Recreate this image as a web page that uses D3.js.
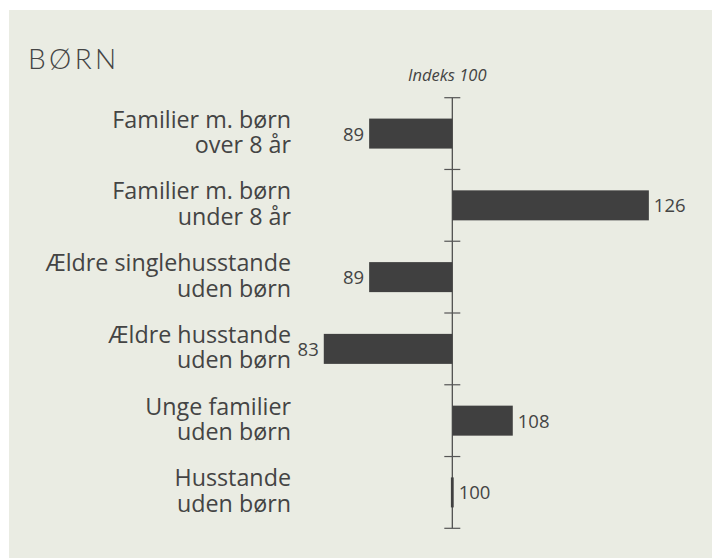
<!DOCTYPE html>
<html>
<head>
<meta charset="utf-8">
<script src="https://cdn.jsdelivr.net/npm/d3@7"></script>
<style>
  html, body { margin: 0; padding: 0; background: #ffffff; }
  svg { display: block; }
</style>
</head>
<body>
<svg id="chart" width="712" height="558"></svg>
<script>
const title = "BØRN";
const axisLabel = "Indeks 100";
const categories = [
  ["Familier m. børn", "over 8 år"],
  ["Familier m. børn", "under 8 år"],
  ["Ældre singlehusstande", "uden børn"],
  ["Ældre husstande", "uden børn"],
  ["Unge familier", "uden børn"],
  ["Husstande", "uden børn"]
];
const values = [89, 126, 89, 83, 108, 100];
const baseline = 100;

const svg = d3.select("#chart");
const W = 712, H = 558;
const textColor = "#444444";
const barColor = "#404040";
const font = "'Open Sans', 'Noto Sans', sans-serif";

svg.append("rect").attr("x", 9).attr("y", 10).attr("width", W - 9).attr("height", H - 10).attr("fill", "#eaece3");

const keys = categories.map((c, i) => i);
const y = d3.scaleBand().domain(keys).range([97.7, 528.3]).padding(0);
const x = d3.scaleLinear().domain([80, 130]).range([452.3 - 20 * 7.56, 452.3 + 30 * 7.56]);

// title
svg.append("text").attr("x", 28).attr("y", 68.5)
  .attr("font-family", "Lato, 'Open Sans', sans-serif").attr("font-weight", 300)
  .attr("font-size", 28).attr("letter-spacing", 3.4).attr("fill", textColor).text(title);

// axis label
svg.append("text").attr("x", x(baseline) - 5).attr("y", 80.5).attr("text-anchor", "middle")
  .attr("font-family", font).attr("font-style", "italic").attr("font-size", 16.5)
  .attr("fill", textColor).text(axisLabel);

// axis line
svg.append("line").attr("x1", x(baseline)).attr("x2", x(baseline))
  .attr("y1", y.range()[0]).attr("y2", y.range()[1])
  .attr("stroke", "#444").attr("stroke-width", 1.2);

// ticks at band boundaries
const tickPos = keys.map(k => y(k)).concat([y.range()[1]]);
svg.selectAll(".tick").data(tickPos).enter().append("line")
  .attr("x1", x(baseline) - 8).attr("x2", x(baseline) + 8)
  .attr("y1", d => d).attr("y2", d => d)
  .attr("stroke", "#555").attr("stroke-width", 1.2);

const barH = y.bandwidth() * 0.418;
const minW = 2.8;

svg.selectAll(".bar").data(values).enter().append("rect")
  .attr("x", (d) => {
    const w = Math.abs(x(d) - x(baseline));
    if (w < minW) return x(baseline) - minW / 2;
    return Math.min(x(d), x(baseline));
  })
  .attr("y", (d, i) => y(i) + y.bandwidth() / 2 - barH / 2)
  .attr("width", d => Math.max(minW, Math.abs(x(d) - x(baseline))))
  .attr("height", barH)
  .attr("fill", barColor);

// value labels
svg.selectAll(".val").data(values).enter().append("text")
  .attr("x", d => d < baseline ? x(d) - 5 : Math.max(x(d), x(baseline) + minW / 2) + 5)
  .attr("y", (d, i) => y(i) + y.bandwidth() / 2 + 7)
  .attr("text-anchor", d => d < baseline ? "end" : "start")
  .attr("font-family", font).attr("font-size", 18.5)
  .attr("fill", textColor).text(d => d);

// category labels
const lab = svg.selectAll(".cat").data(categories).enter().append("text")
  .attr("text-anchor", "end")
  .attr("font-family", font).attr("font-size", 23.3).attr("fill", textColor);
lab.append("tspan").attr("x", 291).attr("y", (d, i) => y(i) + y.bandwidth() / 2 - 6).text(d => d[0]);
lab.append("tspan").attr("x", 291).attr("y", (d, i) => y(i) + y.bandwidth() / 2 + 19.5).text(d => d[1]);
</script>
</body>
</html>
